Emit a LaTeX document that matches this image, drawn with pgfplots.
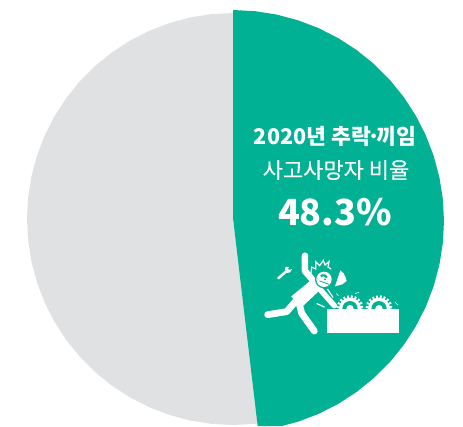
\documentclass[border=0pt]{standalone}
\usepackage{fontspec}
\usepackage{pgfplots}
\pgfplotsset{compat=1.18}
\setmainfont{Noto Sans CJK KR}
\newfontfamily\medfont[FakeBold=0.25]{Noto Sans CJK KR}
\definecolor{pieGreen}{HTML}{00B193}
\definecolor{pieGrey}{HTML}{E0E1E3}
\begin{document}
\begin{tikzpicture}
\begin{axis}[
  scale only axis, width=463pt, height=426pt,
  xmin=0, xmax=463, ymin=0, ymax=426, y dir=reverse,
  hide axis, clip=true]
% other causes: 51.7 %
\addplot[fill=pieGrey, draw=none, no marks] coordinates {
(233,219)(233,13)(211.47,14.13)(190.17,17.51)(169.35,23.07)(149.22,30.81)(130,40.6)
(111.91,52.35)(95.17,65.91)(79.91,81.17)(66.35,97.91)(54.6,116)(44.81,135.22)
(37.07,155.35)(31.51,176.17)(28.13,197.47)(27,219)(28.13,240.53)(31.51,261.83)
(37.07,282.65)(44.81,302.78)(54.6,322)(66.35,340.09)(79.91,356.83)(95.17,372.09)
(111.91,385.65)(130,397.4)(149.22,407.19)(169.35,414.93)(190.17,420.49)(211.47,423.87)
(233,425)(254.53,423.87)(260,423.4)(233,219)};
% falls and caught-in: 48.3 %
\addplot[fill=pieGreen, draw=none, no marks] coordinates {
(233,218)(233,10)(255.05,11.16)(276.87,14.61)(298.2,20.33)(318.81,28.24)(338.5,38.27)
(357.02,50.3)(374.18,64.2)(389.8,79.82)(403.7,96.98)(415.73,115.5)(425.76,135.19)
(433.67,155.8)(439.39,177.13)(442.84,198.95)(444,221)(442.84,243.05)(439.39,264.87)
(433.67,286.2)(425.76,306.81)(415.73,326.5)(403.7,345.02)(389.8,362.18)(374.18,377.8)
(357.02,391.7)(338.5,403.73)(318.81,413.76)(298.2,421.67)(282,426)(257.7,426)(233,218)};

\node[white, font=\fontsize{21.6}{22}\selectfont\bfseries, inner sep=0pt] at (axis cs:335,136.5) {2020년 추락\kern-4pt·\kern-4pt끼임};
\node[white, font=\fontsize{22}{22}\selectfont\medfont, inner sep=0pt] at (axis cs:336,170) {사고사망자 비율};
\node[white, font=\fontsize{36}{36}\selectfont\bfseries, inner sep=0pt] at (axis cs:335,212) {48.3\%};

% pictogram
\begin{scope}[shift={(axis cs:255,245)}, x=0.3333pt, y=-0.3333pt, line cap=round, line join=round]
  % gears
  \draw[white, line width=3pt, line cap=butt, dash pattern=on 1.9pt off 1.9pt] (285,191) circle (36);
  \fill[white] (285,191) circle (33);
  \fill[pieGreen] (285,191) circle (23);
  \fill[white] (285,191) circle (11);
  \draw[white, line width=3pt, line cap=butt, dash pattern=on 1.9pt off 1.9pt] (372,191) circle (36);
  \fill[white] (372,191) circle (33);
  \fill[pieGreen] (372,191) circle (23);
  \fill[white] (372,191) circle (11);
  % box
  \fill[white] (215,193) rectangle (433,264);
  % body
  \draw[white, line width=6.5pt] (150,32) -- (150,78) -- (190,125);
  \draw[white, line width=5.5pt] (185,122) -- (238,182);
  \fill[white] (165,108) -- (195,135) -- (145,182) -- (108,155) -- cycle;
  \draw[white, line width=6.8pt] (125,165) -- (95,200) -- (38,209);
  \draw[white, line width=6.8pt] (130,165) -- (140,205) -- (178,258);
  % head
  \fill[pieGreen] (207,103) circle (27);
  \fill[white] (207,103) circle (23);
  \fill[pieGreen] (196,91) .. controls (205,84) and (215,88) .. (218,97) -- (213,99) .. controls (210,93) and (203,92) .. (198,96) -- cycle;
  \draw[pieGreen, line width=0.8pt] (194,108) -- (222,118);
  \fill[pieGreen] (210,103) circle (3);
  % spikes
  \draw[white, line width=1.2pt, line join=miter] (168,86) -- (170,66) -- (182,72) -- (182,50) -- (194,62) -- (205,46) -- (210,60) -- (222,50) -- (219,66) -- (228,72);
  % wrench
  \draw[white, line width=2.5pt] (70,100) -- (97,76);
  \fill[white] (90,72) -- (92,65) -- (102,66) -- (98,73) -- (106,74) -- (111,72) -- (105,82) -- (96,84) -- cycle;
  % broken piece
  \fill[white] (240,124) -- (256,76) -- (266,85) -- (272,97) -- (275,108) -- (262,118) -- cycle;
  % sparks
  \draw[white, line width=1.2pt] (218,133) -- (234,157);
  \draw[white, line width=1.2pt] (186,176) -- (208,186);
  \draw[white, line width=.5pt] (244,146) -- (250,152);
  \draw[white, line width=.5pt] (300,146) -- (312,142);
  \draw[white, line width=.5pt] (420,172) -- (428,180);
\end{scope}
\end{axis}
\pgfresetboundingbox
\useasboundingbox (0,0) rectangle (463pt,426pt);
\end{tikzpicture}
\end{document}
